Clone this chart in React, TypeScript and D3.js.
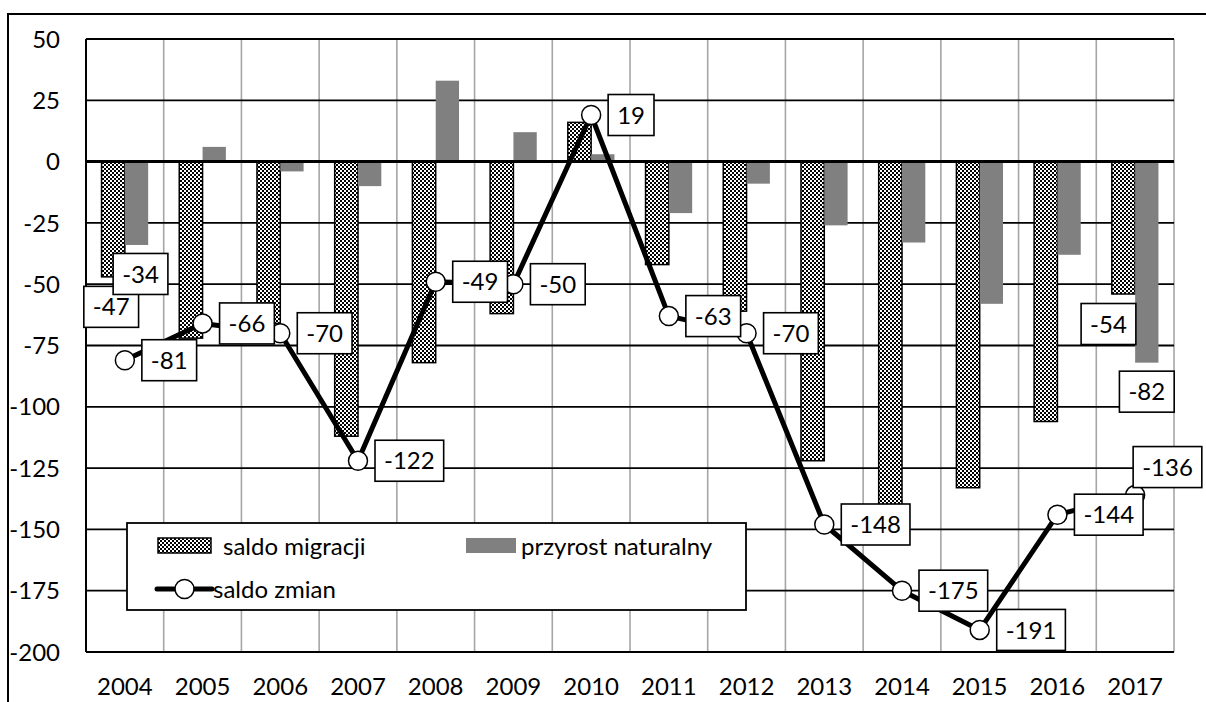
import React from 'react';
import * as d3 from 'd3';

const years = ['2004','2005','2006','2007','2008','2009','2010','2011','2012','2013','2014','2015','2016','2017'];
const saldoMigracji = [-47,-72,-66,-112,-82,-62,16,-42,-61,-122,-142,-133,-106,-54];
const przyrostNaturalny = [-34,6,-4,-10,33,12,3,-21,-9,-26,-33,-58,-38,-82];
const saldoZmian = [-81,-66,-70,-122,-49,-50,19,-63,-70,-148,-175,-191,-144,-136];
const yTicks = [50,25,0,-25,-50,-75,-100,-125,-150,-175,-200];
const seriesNames = ['saldo migracji','przyrost naturalny','saldo zmian'];
// which bar values carry a data label
const migracjiLabelled = [0, 13];
const przyrostLabelled = [0, 13];

// layout
const W = 1206, H = 702;
const PL = 86, PR = 1174, PT = 39, PB = 652;
const FONT = 'Lato, "Open Sans", sans-serif';
const FS = 24;
const BOX_H = 41;
const migLabelDx: Record<number, number> = { 0: -2, 13: -15 };
const przLabelDx: Record<number, number> = { 0: 4, 13: 0 };
const lineLabelShift: Record<number, { dx: number; dy: number }> = { 13: { dx: -2, dy: -28 } };

let ctx: CanvasRenderingContext2D | null = null;
function textW(s: string) {
  if (!ctx) {
    ctx = document.createElement('canvas').getContext('2d');
  }
  if (!ctx) return s.length * 12;
  ctx.font = `${FS}px Lato`;
  return ctx.measureText(s).width;
}

function LabelBox({ cx, cy, left, text }: { cx?: number; cy: number; left?: number; text: string }) {
  const w = textW(text) + 18;
  const x0 = left !== undefined ? left : (cx as number) - w / 2;
  return (
    <g>
      <rect x={x0} y={cy - BOX_H / 2} width={w} height={BOX_H} fill="#fff" stroke="#000" strokeWidth={1.6} />
      <text x={x0 + w / 2} y={cy} dy="0.36em" textAnchor="middle" fontSize={FS} fontFamily={FONT} fill="#000">{text}</text>
    </g>
  );
}

export default function App() {
  const x = d3.scaleBand<string>().domain(years).range([PL, PR]).paddingInner(0).paddingOuter(0);
  const bw = x.bandwidth();
  const sub = d3.scaleBand<string>().domain(['m', 'p']).range([0.2 * bw, 0.8 * bw]);
  const y = d3.scaleLinear().domain([-200, 50]).range([PB, PT]);
  const cx = (i: number) => (x(years[i]) as number) + bw / 2;

  const line = d3.line<number>().x((_, i) => cx(i)).y(d => y(d));

  const barRect = (v: number, i: number, key: string) => {
    const x0 = (x(years[i]) as number) + (sub(key) as number);
    const y0 = Math.min(y(v), y(0));
    const h = Math.abs(y(v) - y(0));
    return { x0, y0, h, w: sub.bandwidth() };
  };

  return (
    <svg width={W} height={H} style={{ position: 'fixed', left: 0, top: 0, background: '#fff', overflow: 'hidden' }}>
      <defs>
        <pattern id="chk" width={4} height={4} patternUnits="userSpaceOnUse">
          <rect width={4} height={4} fill="#fff" />
          <rect x={0} y={0} width={2} height={2} fill="#000" />
          <rect x={2} y={2} width={2} height={2} fill="#000" />
        </pattern>
      </defs>
      <rect x={0} y={0} width={W} height={H} fill="#fff" />
      {/* outer frame */}
      <rect x={8} y={14} width={1400} height={900} fill="none" stroke="#000" strokeWidth={2} />

      {/* vertical gridlines */}
      {years.map((yr, i) => i > 0 ? (
        <line key={yr} x1={x(yr) as number} x2={x(yr) as number} y1={PT} y2={PB} stroke="#a6a6a6" strokeWidth={1.6} />
      ) : null)}
      <line x1={PR} x2={PR} y1={PT} y2={PB} stroke="#a6a6a6" strokeWidth={1.6} />
      {/* horizontal gridlines */}
      {yTicks.map(t => (
        <line key={t} x1={PL} x2={PR} y1={y(t)} y2={y(t)} stroke="#000" strokeWidth={t === 0 ? 3 : 1.8} />
      ))}

      {/* bars */}
      {saldoMigracji.map((v, i) => {
        const r = barRect(v, i, 'm');
        return <rect key={'m' + i} x={r.x0} y={r.y0} width={r.w} height={r.h} fill="url(#chk)" stroke="#000" strokeWidth={1.5} />;
      })}
      {przyrostNaturalny.map((v, i) => {
        const r = barRect(v, i, 'p');
        return <rect key={'p' + i} x={r.x0} y={r.y0} width={r.w} height={r.h} fill="#808080" />;
      })}
      {/* zero line on top of bars */}
      <line x1={PL} x2={PR} y1={y(0)} y2={y(0)} stroke="#000" strokeWidth={3} />
      {/* left axis */}
      <line x1={PL} x2={PL} y1={PT} y2={PB} stroke="#000" strokeWidth={2} />

      {/* line series */}
      <path d={line(saldoZmian) as string} fill="none" stroke="#000" strokeWidth={5} strokeLinejoin="round" />
      {saldoZmian.map((v, i) => (
        <circle key={'c' + i} cx={cx(i)} cy={y(v)} r={9.5} fill="#fff" stroke="#000" strokeWidth={1.5} />
      ))}

      {/* bar labels */}
      {migracjiLabelled.map(i => {
        const r = barRect(saldoMigracji[i], i, 'm');
        return <LabelBox key={'ml' + i} cx={r.x0 + r.w / 2 + (migLabelDx[i] || 0)} cy={y(saldoMigracji[i]) + 30} text={String(saldoMigracji[i])} />;
      })}
      {przyrostLabelled.map(i => {
        const r = barRect(przyrostNaturalny[i], i, 'p');
        return <LabelBox key={'pl' + i} cx={r.x0 + r.w / 2 + (przLabelDx[i] || 0)} cy={y(przyrostNaturalny[i]) + 29} text={String(przyrostNaturalny[i])} />;
      })}
      {/* line labels */}
      {saldoZmian.map((v, i) => {
        const s = lineLabelShift[i] || { dx: 17, dy: 0 };
        return <LabelBox key={'ll' + i} left={cx(i) + s.dx} cy={y(v) + s.dy} text={String(v)} />;
      })}

      {/* y tick labels */}
      {yTicks.map(t => (
        <text key={'yt' + t} x={60} y={y(t)} dy="0.36em" textAnchor="end" fontSize={FS} fontFamily={FONT} fill="#000">{t}</text>
      ))}
      {/* x tick labels */}
      {years.map((yr, i) => (
        <text key={'xt' + yr} x={cx(i)} y={686} dy="0.36em" textAnchor="middle" fontSize={FS} fontFamily={FONT} fill="#000">{yr}</text>
      ))}

      {/* legend */}
      <g>
        <rect x={127} y={523} width={619} height={87} fill="#fff" stroke="#000" strokeWidth={1.8} />
        <rect x={158} y={538} width={53} height={15} fill="url(#chk)" stroke="#000" strokeWidth={1.5} />
        <text x={223} y={546} dy="0.36em" fontSize={FS} fontFamily={FONT} fill="#000">{seriesNames[0]}</text>
        <rect x={466} y={538} width={50} height={15} fill="#808080" />
        <text x={521} y={546} dy="0.36em" fontSize={FS} fontFamily={FONT} fill="#000">{seriesNames[1]}</text>
        <line x1={157} x2={212} y1={589} y2={589} stroke="#000" strokeWidth={5} strokeLinecap="round" />
        <circle cx={184.5} cy={589} r={9.5} fill="#fff" stroke="#000" strokeWidth={1.5} />
        <text x={213} y={589} dy="0.36em" fontSize={FS} fontFamily={FONT} fill="#000">{seriesNames[2]}</text>
      </g>
    </svg>
  );
}
